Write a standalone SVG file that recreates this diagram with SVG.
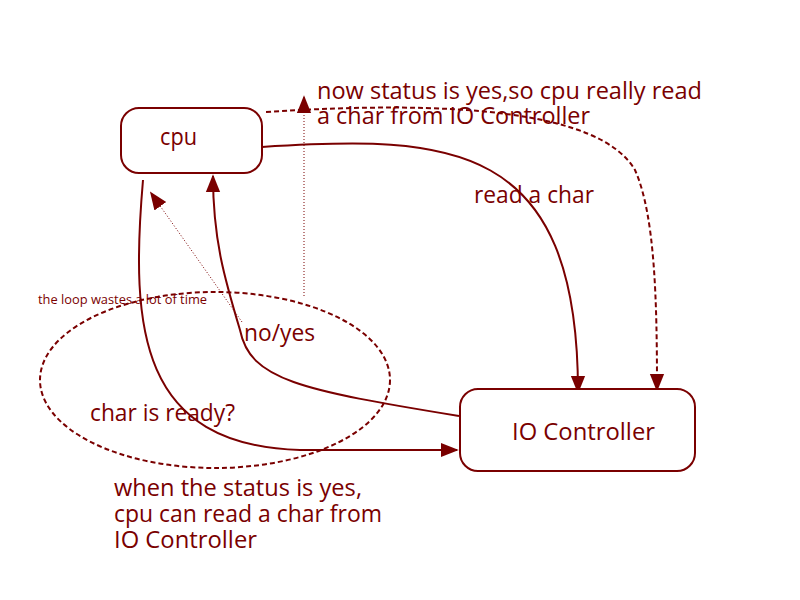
<svg xmlns="http://www.w3.org/2000/svg" width="800" height="600" viewBox="0 0 800 600">
<defs>
<style>
.t{font-family:"Open Sans","Noto Sans","DejaVu Sans",sans-serif;fill:#7a0000;font-size:23px}
.s{font-size:12px}
.box{fill:#fff;stroke:#7a0000;stroke-width:2}
.c{fill:none;stroke:#7a0000;stroke-width:2}
.d{fill:none;stroke:#7a0000;stroke-width:2;stroke-dasharray:5 3}
.dt{fill:none;stroke:#7a0000;stroke-width:1;stroke-dasharray:1 2}
</style>
<marker id="A" viewBox="0 0 10 10" refX="9" refY="5" markerWidth="18" markerHeight="18" markerUnits="userSpaceOnUse" orient="auto"><path d="M0,1L10,5L0,9z" fill="#7a0000"/></marker>
</defs>
<rect width="800" height="600" fill="#fff"/>
<g id="loop"><ellipse class="d" cx="215" cy="380" rx="175" ry="88"/></g>
<g id="connectors">
<path class="c" d="M262,147 C450,135 578,140 578,392" marker-end="url(#A)"/>
<path class="d" d="M266,112 C450,100 600,110 635,170 C655,215 657,300 657,390" marker-end="url(#A)"/>
<path class="c" d="M143,180 C130,330 140,445 300,450 L457,450" marker-end="url(#A)"/>
<path class="c" d="M459,416 C300,390 250,380 240,330 C225,280 213,240 213,176" marker-end="url(#A)"/>
<path class="dt" d="M242,322 L151,193" marker-end="url(#A)"/>
<path class="dt" d="M304,296 L304,97" marker-end="url(#A)"/>
</g>
<g id="cpu"><rect class="box" x="121" y="108" width="141" height="65" rx="18"/><text class="t" x="160" y="145" textLength="37" lengthAdjust="spacingAndGlyphs">cpu</text></g>
<g id="io"><rect class="box" x="460" y="389" width="235" height="82" rx="18"/><text class="t" x="512" y="440" textLength="143" lengthAdjust="spacingAndGlyphs">IO Controller</text></g>
<g id="labels">
<text class="t" x="317" y="99" textLength="385" lengthAdjust="spacingAndGlyphs">now status is yes,so cpu really read</text>
<text class="t" x="317" y="124" textLength="273" lengthAdjust="spacingAndGlyphs">a char from IO Controller</text>
<text class="t" x="474" y="203" textLength="120" lengthAdjust="spacingAndGlyphs">read a char</text>
<text class="t s" x="38" y="304" textLength="169" lengthAdjust="spacingAndGlyphs">the loop wastes a lot of time</text>
<text class="t" x="244" y="341" textLength="71" lengthAdjust="spacingAndGlyphs">no/yes</text>
<text class="t" x="90" y="421" textLength="145" lengthAdjust="spacingAndGlyphs">char is ready?</text>
<text class="t" x="114" y="496" textLength="248" lengthAdjust="spacingAndGlyphs">when the status is yes,</text>
<text class="t" x="114" y="522" textLength="268" lengthAdjust="spacingAndGlyphs">cpu can read a char from</text>
<text class="t" x="114" y="548" textLength="143" lengthAdjust="spacingAndGlyphs">IO Controller</text>
</g>
</svg>
